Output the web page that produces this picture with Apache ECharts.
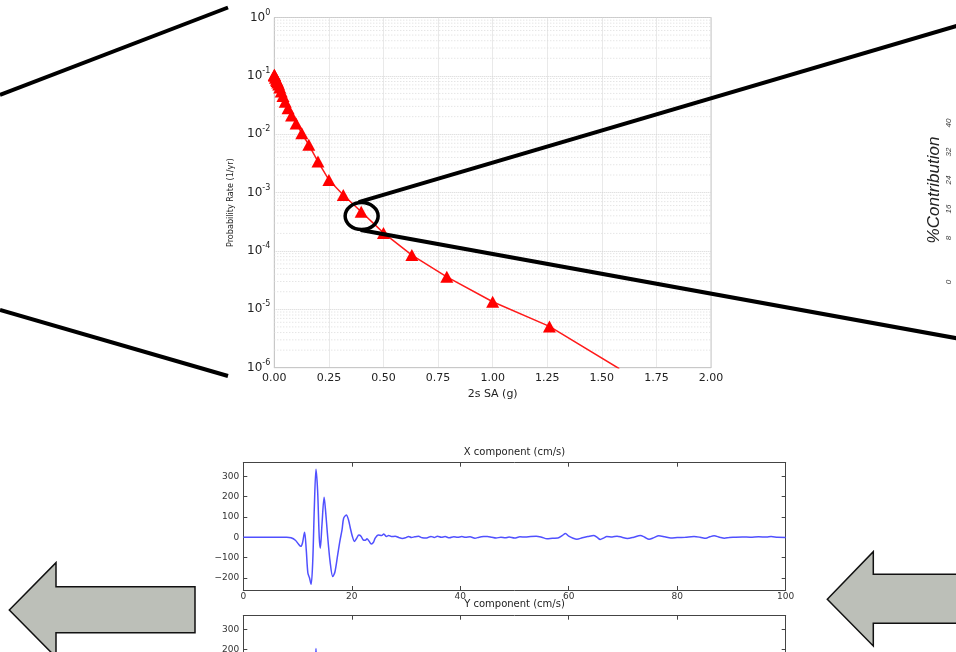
<!DOCTYPE html>
<html>
<head>
<meta charset="utf-8">
<script src="https://cdn.jsdelivr.net/npm/echarts@6/dist/echarts.min.js"></script>
<style>
  html, body { margin: 0; padding: 0; background: #fff; }
  #chart { width: 956px; height: 652px; }
</style>
</head>
<body>
<div id="chart"></div>
<script>
// ---- Hazard curve: 2 s SA (g) vs annual probability rate ----
const saLevels = [0.0001, 0.0005, 0.001, 0.005, 0.01, 0.0126, 0.0158, 0.02, 0.025, 0.0316, 0.0398,
  0.05, 0.063, 0.079, 0.1, 0.126, 0.158, 0.2, 0.25, 0.316, 0.398, 0.5, 0.63, 0.79, 1.0, 1.26, 1.58];
const hazardRates = [0.105, 0.103, 0.1, 0.093, 0.086, 0.082, 0.077, 0.071, 0.063, 0.054, 0.045,
  0.036, 0.028, 0.021, 0.0152, 0.0104, 0.0066, 0.0034, 0.00165, 0.00091, 0.00047,
  0.000204, 0.000085, 0.000036, 0.0000135, 0.0000051, 0.00000096];
const targetRate = 4.04e-4;           // 2% in 50 years
const targetSA = 0.4;

// ---- Velocity seismogram, X component (cm/s) ----
const xCompTime = [0, 8, 8.8, 9.6, 10.2, 10.6, 10.9, 11.3, 11.6, 11.9, 12.2, 12.5, 12.8, 13.1, 13.4, 13.7,
  14.0, 14.2, 14.5, 14.9, 15.2, 15.5, 16.0, 16.5, 16.9, 17.4, 17.8, 18.2, 18.5, 19.0, 19.4, 19.7, 20.1,
  20.5, 20.9, 21.3, 21.7, 22.1, 22.5, 22.8, 23.2, 23.6, 24.0, 24.3, 24.9, 25.5, 25.9, 26.4, 26.8, 27.3,
  28.0, 28.7, 29.3, 29.9, 30.5, 31.0, 31.6, 32.3, 33.0, 33.8, 34.6, 35.2, 35.8, 36.5, 37.2, 38.0, 38.8,
  39.5, 40.3, 41.0, 41.8, 42.7, 43.5, 44.3, 45.0, 45.8, 46.6, 47.5, 48.3, 49.0, 50.0, 51.0, 52.0, 53.0,
  54.0, 55.0, 56.0, 57.0, 58.0, 58.8, 59.4, 60.0, 60.8, 61.5, 62.5, 63.5, 64.6, 65.2, 65.8, 66.5, 67.0,
  68.0, 68.9, 69.8, 70.8, 72.0, 73.2, 74.0, 74.8, 75.7, 76.6, 77.7, 78.8, 80.0, 81.5, 83.1, 84.2, 85.3,
  86.0, 86.8, 87.8, 88.7, 89.6, 90.5, 92.0, 93.5, 95.0, 96.5, 97.3, 98.5, 100];
const xCompVel = [0, 0, -3, -15, -35, -45, -30, 25, -60, -175, -200, -232, -120, 150, 335, 230,
  0, -54, 60, 197, 120, 20, -120, -194, -170, -87, -20, 36, 93, 110, 85, 49, 5,
  -21, -5, 11, 5, -13, -15, -8, -20, -33, -25, -5, 11, 8, 16, 3, 9, 3,
  5, -2, -6, -3, 4, -2, 2, 5, -3, -4, 4, -1, 5, 0, 3, -3, 2,
  0, 3, 0, 2, -5, 0, 3, 4, 0, -4, 0, -3, 1, -4, 2, 1, 4,
  5, 0, -8, -5, -4, 8, 18, 5, -5, -10, -3, 3, 9, 0, -11, -3, 3,
  1, 5, 0, -6, 0, 8, 0, -10, -2, 7, 2, -4, -2, 0, 3, 0, -5,
  2, 7, 0, -5, -1, 0, 1, 0, 2, 1, 3, 0, -1];

// ---- Velocity seismogram, Y component (cm/s) ----
const yCompTime = [0, 9, 10.5, 11.3, 12.0, 12.7, 13.1, 13.4, 13.7, 14.3, 15.0, 15.8, 16.6, 17.5, 18.5,
  19.5, 20.5, 22, 24, 26, 30, 40, 60, 70, 80, 100];
const yCompVel = [0, 0, -30, 40, -150, -120, 60, 205, 60, -140, 120, -60, -170, -40, 80,
  30, -20, 10, -15, 8, -3, 2, 10, -5, 3, 0];
const velTicks = [-200, -100, 0, 100, 200, 300];

// ---- Deaggregation axis, partly visible at the right edge ----
const contribTicks = ['0', '8', '16', '24', '32', '40'];

const zip = (a, b) => a.map((v, i) => [v, b[i]]);

// log-decade minor grid values (2..9 x 10^k)
const minorGrid = [];
for (let k = -6; k < 0; k++) {
  for (let m = 2; m <= 9; m++) minorGrid.push(m * Math.pow(10, k));
}

const mplFont = 'DejaVu Sans, sans-serif';
const frameColor = '#444';

function panelXAxis(gridIndex, position, showLabels) {
  return {
    type: 'value', gridIndex, position, min: 0, max: 100, interval: 20,
    axisLine: { show: true, onZero: false, lineStyle: { color: frameColor, width: 1 } },
    axisTick: { show: true, inside: true, length: 4, lineStyle: { color: frameColor } },
    axisLabel: { show: showLabels, fontFamily: mplFont, fontSize: 9, color: '#333', margin: 2 },
    splitLine: { show: false }
  };
}
function panelYAxis(gridIndex, position, showLabels) {
  return {
    type: 'value', gridIndex, position, min: -260, max: 367,
    axisLine: { show: true, onZero: false, lineStyle: { color: frameColor, width: 1 } },
    axisTick: { show: true, inside: true, length: 4, customValues: velTicks, lineStyle: { color: frameColor } },
    axisLabel: { show: showLabels, customValues: velTicks, fontFamily: mplFont, fontSize: 9, color: '#333', margin: 4,
      formatter: v => (v < 0 ? '\u2212' + Math.abs(v) : String(v)) },
    splitLine: { show: false }
  };
}

const chart = echarts.init(document.getElementById('chart'), null, { renderer: 'canvas' });

chart.setOption({
  backgroundColor: '#fff',
  animation: false,
  title: [
    { text: 'X component (cm/s)', left: 514.5, top: 447, textAlign: 'center', padding: 0,
      textStyle: { fontFamily: mplFont, fontSize: 10, fontWeight: 'normal', color: '#222' } },
    { text: 'Y component (cm/s)', left: 514.5, top: 599.5, textAlign: 'center', padding: 0,
      textStyle: { fontFamily: mplFont, fontSize: 10, fontWeight: 'normal', color: '#222' } }
  ],
  grid: [
    { left: 274.3, top: 17.5, width: 436.7, height: 350.2, show: true, borderColor: '#c8c8c8', borderWidth: 1,
      outerBoundsMode: 'none' },
    { left: 243.3, top: 462.7, width: 542.4, height: 127.3, outerBoundsMode: 'none' },
    { left: 243.3, top: 615.7, width: 542.4, height: 127.3, outerBoundsMode: 'none' }
  ],
  xAxis: [
    {
      type: 'value', gridIndex: 0, min: 0, max: 2, interval: 0.25,
      name: '2s SA (g)', nameLocation: 'middle', nameGap: 19,
      nameTextStyle: { fontFamily: mplFont, fontSize: 11, color: '#222' },
      axisLine: { show: true, lineStyle: { color: '#c8c8c8' } },
      axisTick: { show: false },
      axisLabel: { fontFamily: mplFont, fontSize: 11, color: '#222', margin: 5, formatter: v => v.toFixed(2) },
      splitLine: { show: true, lineStyle: { color: '#d4d4d4', type: 'dotted', width: 1 } }
    },
    panelXAxis(1, 'bottom', true),
    panelXAxis(1, 'top', false),
    panelXAxis(2, 'bottom', true),
    panelXAxis(2, 'top', false)
  ],
  yAxis: [
    {
      type: 'log', logBase: 10, gridIndex: 0, min: 1e-6, max: 1,
      name: 'Probability Rate (1/yr)', nameLocation: 'middle', nameGap: 39,
      nameTextStyle: { fontFamily: 'Liberation Sans Narrow, DejaVu Sans Condensed, sans-serif', fontSize: 9, color: '#222',
        padding: [0, 20, 0, 0] },
      axisLine: { show: true, lineStyle: { color: '#c8c8c8' } },
      axisTick: { show: false },
      axisLabel: {
        margin: 4,
        formatter: v => '{b|10}{s|' + Math.round(Math.log10(v)) + '}',
        rich: {
          b: { fontFamily: mplFont, fontSize: 12, color: '#222', lineHeight: 18 },
          s: { fontFamily: mplFont, fontSize: 8, color: '#222', lineHeight: 9, verticalAlign: 'top' }
        }
      },
      splitLine: { show: true, lineStyle: { color: '#d4d4d4', type: 'dotted', width: 1 } }
    },
    panelYAxis(1, 'left', true),
    panelYAxis(1, 'right', false),
    panelYAxis(2, 'left', true),
    panelYAxis(2, 'right', false)
  ],
  series: [
    {
      // minor log grid lines across the hazard plot
      type: 'custom', xAxisIndex: 0, yAxisIndex: 0, z: 1, silent: true,
      data: minorGrid.map(v => [0, v]),
      renderItem: (params, api) => {
        const p0 = api.coord([0, api.value(1)]);
        const p1 = api.coord([2, api.value(1)]);
        return {
          type: 'line',
          shape: { x1: p0[0], y1: p0[1], x2: p1[0], y2: p1[1] },
          style: { stroke: '#dadada', lineWidth: 1, lineDash: [1, 2] }
        };
      }
    },
    {
      name: 'Hazard', type: 'line', xAxisIndex: 0, yAxisIndex: 0, z: 3,
      data: zip(saLevels, hazardRates),
      color: '#ff0000',
      lineStyle: { color: '#ff1a1a', width: 1.5 },
      symbol: 'triangle', symbolSize: [13, 12], showAllSymbol: true,
      itemStyle: { color: '#ff0000' },
      clip: true,
      markLine: {
        silent: true, symbol: 'none', label: { show: false }, animation: false,
        lineStyle: { color: '#000', type: [6, 4], width: 1.5 },
        data: [{ yAxis: targetRate }]
      }
    },
    {
      name: 'X component', type: 'line', xAxisIndex: 1, yAxisIndex: 1,
      data: zip(xCompTime, xCompVel), smooth: 0.3, symbol: 'none',
      lineStyle: { color: '#5050ff', width: 1.5 }
    },
    {
      name: 'Y component', type: 'line', xAxisIndex: 3, yAxisIndex: 3,
      data: zip(yCompTime, yCompVel), smooth: 0.2, symbol: 'none',
      lineStyle: { color: '#5050ff', width: 1.5 }
    }
  ]
});

// Annotation overlays: zoom ring around the design point, leader lines, arrows, side axis text
const ring = chart.convertToPixel({ xAxisIndex: 0, yAxisIndex: 0 }, [targetSA, targetRate]);
const cx = ring[0], cy = ring[1] + 0.5;
const stroke4 = { stroke: '#000', lineWidth: 4, lineCap: 'butt' };
const arrowStyle = { fill: '#bcbfb8', stroke: '#111', lineWidth: 1.5 };
const sideFont = 'Liberation Sans, Arial, sans-serif';

const graphics = [
  { type: 'line', z: 100, shape: { x1: 0, y1: 95, x2: 228, y2: 7.5 }, style: stroke4 },
  { type: 'line', z: 100, shape: { x1: 0, y1: 310, x2: 228, y2: 376 }, style: stroke4 },
  { type: 'line', z: 100, shape: { x1: cx - 3, y1: cy - 14, x2: 958, y2: 25.5 }, style: stroke4 },
  { type: 'line', z: 100, shape: { x1: cx - 1, y1: cy + 14, x2: 958, y2: 338.5 }, style: stroke4 },
  { type: 'ellipse', z: 101, shape: { cx: cx, cy: cy, rx: 16.5, ry: 13.5 },
    style: { fill: null, stroke: '#000', lineWidth: 3.5 } },
  { type: 'polygon', z: 100, shape: { points: [[9.3, 610], [56, 562.7], [56, 586.7], [195, 586.7], [195, 632.7], [56, 632.7], [56, 657.3]] },
    style: arrowStyle },
  { type: 'polygon', z: 100, shape: { points: [[827.3, 599.3], [873.3, 551.7], [873.3, 574.3], [962, 574.3], [962, 623.3], [873.3, 623.3], [873.3, 646]] },
    style: arrowStyle },
  { type: 'text', z: 100, x: 934, y: 190, rotation: Math.PI / 2,
    style: { text: '%Contribution', font: 'italic 17px ' + sideFont, fill: '#222', textAlign: 'center', textVerticalAlign: 'middle' } }
];
const contribY = [282, 238, 209, 180, 152, 123];
contribTicks.forEach((t, i) => {
  graphics.push({ type: 'text', z: 100, x: 949, y: contribY[i], rotation: Math.PI / 2,
    style: { text: t, font: 'italic 8px ' + sideFont, fill: '#444', textAlign: 'center', textVerticalAlign: 'middle' } });
});
chart.setOption({ graphic: graphics });
</script>
</body>
</html>
